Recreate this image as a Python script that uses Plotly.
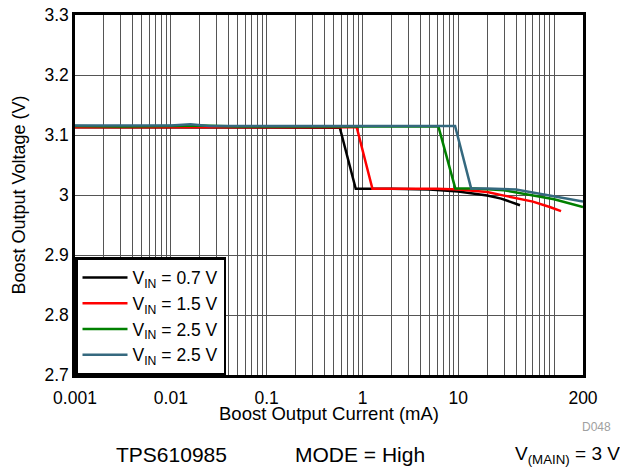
import plotly.graph_objects as go

# values (current in mA, voltage in V)
vin07_i = [0.001, 0.003, 0.01, 0.03, 0.1, 0.3, 0.58, 0.85, 2, 5, 10, 20, 28, 44]
vin07_v = [3.113, 3.113, 3.113, 3.113, 3.113, 3.113, 3.112, 3.0105, 3.0105, 3.009, 3.006, 2.999, 2.994, 2.983]

vin15_i = [0.001, 0.003, 0.01, 0.03, 0.1, 0.3, 0.87, 1.27, 3, 6, 10, 20, 30, 60, 90, 118]
vin15_v = [3.113, 3.113, 3.113, 3.114, 3.114, 3.114, 3.113, 3.0105, 3.0105, 3.0105, 3.009, 3.005, 2.999, 2.989, 2.980, 2.973]

vin25_i = [0.001, 0.003, 0.01, 0.02, 0.05, 0.1, 0.3, 1, 3, 6.2, 9.3, 15, 30, 60, 100, 200]
vin25_v = [3.115, 3.114, 3.115, 3.116, 3.114, 3.114, 3.114, 3.115, 3.115, 3.114, 3.011, 3.011, 3.008, 3.000, 2.993, 2.980]

vin25b_i = [0.001, 0.003, 0.01, 0.016, 0.025, 0.05, 0.1, 0.3, 1, 3, 9.25, 13.6, 20, 40, 60, 120, 200]
vin25b_v = [3.116, 3.116, 3.116, 3.118, 3.115, 3.115, 3.115, 3.115, 3.115, 3.115, 3.115, 3.011, 3.011, 3.009, 3.004, 2.996, 2.989]

series_names = ["V<sub>IN</sub> = 0.7 V", "V<sub>IN</sub> = 1.5 V",
                "V<sub>IN</sub> = 2.5 V", "V<sub>IN</sub> = 2.5 V"]
series_colors = ["#000000", "#ff0000", "#008000", "#35697f"]

x_labels = {0.001: "0.001", 0.01: "0.01", 0.1: "0.1", 1: "1", 10: "10", 200: "200"}
y_ticks = [2.7, 2.8, 2.9, 3.0, 3.1, 3.2, 3.3]
y_labels = ["2.7", "2.8", "2.9", "3", "3.1", "3.2", "3.3"]

# grid at every 1..9 of each decade
x_grid = []
for dec in [0.001, 0.01, 0.1, 1, 10, 100]:
    for k in range(1, 10):
        v = round(dec * k, 6)
        if v <= 200:
            x_grid.append(v)
x_text = [x_labels.get(v, "") for v in x_grid]

fig = go.Figure()
for xs, ys, name, col in zip([vin07_i, vin15_i, vin25_i, vin25b_i],
                             [vin07_v, vin15_v, vin25_v, vin25b_v],
                             series_names, series_colors):
    fig.add_trace(go.Scatter(x=xs, y=ys, mode="lines", name=name,
                             line=dict(color=col, width=2.5)))

# page body has an 8px margin, so the figure is sized/offset to compensate
fig.update_layout(
    width=620, height=459,
    margin=dict(l=67, r=45, t=7, b=92),
    paper_bgcolor="white", plot_bgcolor="white",
    font=dict(family="Liberation Sans, Arial, sans-serif", size=17, color="black"),
    showlegend=True,
    legend=dict(x=0, y=0, xanchor="left", yanchor="bottom",
                bordercolor="black", borderwidth=2.5, bgcolor="white",
                font=dict(size=17.5), tracegroupgap=0, itemwidth=45),
    xaxis=dict(type="log", range=[-3, 2.30103], automargin=False,
               tickvals=x_grid, ticktext=x_text,
               ticks="outside", ticklen=5, tickcolor="rgba(0,0,0,0)",
               tickfont=dict(size=17.5), ticklabeloverflow="allow",
               showgrid=True, gridcolor="#555555", gridwidth=1,
               showline=True, linecolor="black", linewidth=2.5, mirror=True,
               zeroline=False),
    yaxis=dict(range=[2.7, 3.3], tickvals=y_ticks, ticktext=y_labels, ticks="",
               automargin=False, tickfont=dict(size=17.5), ticklabeloverflow="allow",
               showgrid=True, gridcolor="#555555", gridwidth=1,
               showline=True, linecolor="black", linewidth=2.5, mirror=True,
               zeroline=False,
               title=dict(text="Boost Output Voltage (V)", standoff=15, font=dict(size=18))),
    annotations=[
        dict(text="Boost Output Current (mA)", x=0.5, y=-0.108, xref="paper", yref="paper",
             xanchor="center", yanchor="middle",
             showarrow=False, font=dict(size=18.5)),
        dict(text="D048", x=1.0256, y=-0.1444, xref="paper", yref="paper",
             xanchor="center", yanchor="middle",
             showarrow=False, font=dict(size=12, color="#a0a0a0")),
        dict(text="TPS610985", x=0.189, y=-0.2222, xref="paper", yref="paper",
             xanchor="center", yanchor="middle",
             showarrow=False, font=dict(size=21)),
        dict(text="MODE = High", x=0.561, y=-0.2222, xref="paper", yref="paper",
             xanchor="center", yanchor="middle",
             showarrow=False, font=dict(size=21)),
        dict(text="V<sub>(MAIN)</sub> = 3 V", x=0.969, y=-0.2222, xref="paper", yref="paper",
             xanchor="center", yanchor="middle",
             showarrow=False, font=dict(size=19)),
    ],
)

fig.write_html("out.html")
